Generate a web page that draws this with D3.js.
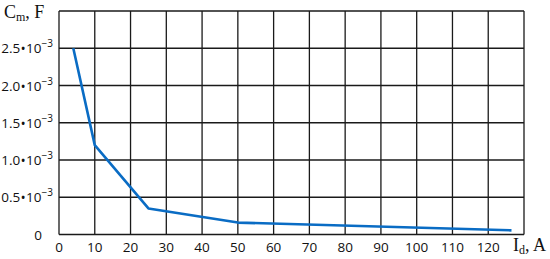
<!DOCTYPE html>
<html>
<head>
<meta charset="utf-8">
<script src="https://cdn.jsdelivr.net/npm/d3@7"></script>
<style>
  body { margin: 0; background: #fff; }
</style>
</head>
<body>
<svg id="chart" width="550" height="259"></svg>
<script>
// current (A) vs capacitance (F)
var currents = [4, 10, 25, 50, 126.5];
var capacitance = [2.5e-3, 1.2e-3, 0.35e-3, 0.16e-3, 0.056e-3];
var xTicks = [0, 10, 20, 30, 40, 50, 60, 70, 80, 90, 100, 110, 120];
var yTicks = [0, 0.5e-3, 1.0e-3, 1.5e-3, 2.0e-3, 2.5e-3];
var yTickMantissa = ["0", "0.5", "1.0", "1.5", "2.0", "2.5"];

var svg = d3.select("#chart"),
    margin = {top: 11, right: 26, bottom: 24.5, left: 59},
    width = +svg.attr("width") - margin.left - margin.right,
    height = +svg.attr("height") - margin.top - margin.bottom,
    g = svg.append("g").attr("transform", "translate(" + margin.left + "," + margin.top + ")");

var x = d3.scaleLinear().domain([0, 130]).range([0, width]),
    y = d3.scaleLinear().domain([0, 3e-3]).range([height, 0]);

// grid
g.append("g")
    .selectAll("line")
    .data(d3.range(0, 131, 10))
    .enter().append("line")
    .attr("x1", d => x(d)).attr("x2", d => x(d))
    .attr("y1", 0).attr("y2", height)
    .attr("stroke", "#1a1a1a").attr("stroke-width", 1.3);

g.append("g")
    .selectAll("line")
    .data(d3.range(0, 3.0001e-3, 0.5e-3))
    .enter().append("line")
    .attr("x1", 0).attr("x2", width)
    .attr("y1", d => y(d)).attr("y2", d => y(d))
    .attr("stroke", "#1a1a1a").attr("stroke-width", 1.3);

// x tick labels
g.append("g")
    .selectAll("text")
    .data(xTicks)
    .enter().append("text")
    .attr("x", d => x(d))
    .attr("y", height + 17.5)
    .attr("text-anchor", "middle")
    .style("font", "13.5px 'Open Sans'")
    .attr("fill", "#111")
    .text(d => d);

// y tick labels
var yl = g.append("g")
    .selectAll("text")
    .data(yTicks)
    .enter().append("text")
    .attr("x", -6)
    .attr("y", d => y(d) + 5)
    .attr("text-anchor", "end")
    .style("font", "13.5px 'Open Sans'")
    .attr("fill", "#111");

yl.each(function(d, i) {
  var t = d3.select(this);
  if (d === 0) { t.attr("x", -17).text("0"); return; }
  t.append("tspan").text(yTickMantissa[i]);
  t.append("tspan").attr("dx", 1).attr("dy", -1).style("font-size", "10px").style("font-weight", "bold").text("\u2022");
  t.append("tspan").attr("dx", 1).attr("dy", 1).text("10");
  t.append("tspan").attr("dy", -6).style("font-size", "10px").text("\u22123");
});

// line
var line = d3.line()
    .x((d, i) => x(currents[i]))
    .y(d => y(d));

g.append("path")
    .datum(capacitance)
    .attr("fill", "none")
    .attr("stroke", "#0a6cc4")
    .attr("stroke-width", 2.6)
    .attr("stroke-linejoin", "round")
    .attr("d", line);

// axis titles
var yTitle = svg.append("text")
    .attr("x", 4).attr("y", 18)
    .style("font", "18px 'Liberation Serif'")
    .attr("fill", "#111");
yTitle.append("tspan").text("C");
yTitle.append("tspan").attr("dy", 3).style("font-size", "12px").text("m");
yTitle.append("tspan").attr("dy", -3).text(", F");

var xTitle = svg.append("text")
    .attr("x", 513).attr("y", 251)
    .style("font", "18px 'Liberation Serif'")
    .attr("fill", "#111");
xTitle.append("tspan").text("I");
xTitle.append("tspan").attr("dy", 3).style("font-size", "12px").text("d");
xTitle.append("tspan").attr("dy", -3).text(", A");
</script>
</body>
</html>
